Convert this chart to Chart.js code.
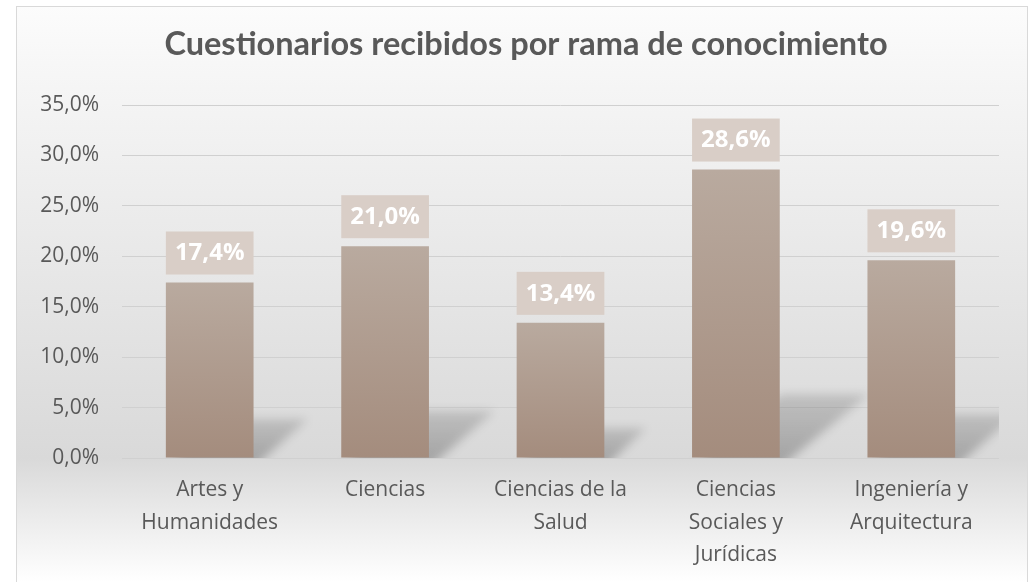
<!DOCTYPE html>
<html>
<head>
<meta charset="utf-8">
<script src="https://cdn.jsdelivr.net/npm/chart.js@4.4.1/dist/chart.umd.min.js"></script>
<style>
  html, body { margin: 0; padding: 0; background: #ffffff; }
  #wrap { width: 1033px; height: 582px; }
</style>
</head>
<body>
<div id="wrap"><canvas id="ramaChart"></canvas></div>
<script>
// datos
var ramas = [
    ['Artes y', 'Humanidades'],
    ['Ciencias'],
    ['Ciencias de la', 'Salud'],
    ['Ciencias', 'Sociales y', 'Jurídicas'],
    ['Ingeniería y', 'Arquitectura']
];
var porcentajes = [17.4, 21.0, 13.4, 28.6, 19.6];
var titulo = 'Cuestionarios recibidos por rama de conocimiento';

function fmtPct(v) {
    return v.toFixed(1).replace('.', ',') + '%';
}

// fondo y marco
var fondoPlugin = {
    id: 'fondo',
    afterLayout: function (chart) {
        // centrar el titulo un poco mas a la derecha, como en el original
        if (chart.titleBlock) chart.titleBlock.left = 53;
    },
    beforeDraw: function (chart) {
        var ctx = chart.ctx;
        ctx.save();
        ctx.fillStyle = '#ffffff';
        ctx.fillRect(0, 0, chart.width, chart.height);
        var g = ctx.createLinearGradient(0, 6, 0, 582);
        g.addColorStop(0, '#fcfcfc');
        g.addColorStop(0.12, '#f6f6f6');
        g.addColorStop(0.785, '#d9d9d9');
        g.addColorStop(1, '#ffffff');
        ctx.fillStyle = g;
        ctx.fillRect(16, 6, 1011, 580);
        ctx.strokeStyle = '#d9d9d9';
        ctx.lineWidth = 1;
        ctx.strokeRect(16.5, 6.5, 1011, 600);
        ctx.restore();
    }
};

// sombras de las barras
var sombraPlugin = {
    id: 'sombra',
    beforeDatasetsDraw: function (chart) {
        var ctx = chart.ctx;
        var area = chart.chartArea;
        var meta = chart.getDatasetMeta(0);
        ctx.save();
        ctx.beginPath();
        ctx.rect(area.left, area.top, area.right - area.left, area.bottom - area.top);
        ctx.clip();
        ctx.filter = 'blur(5px)';
        meta.data.forEach(function (bar) {
            var h = bar.base - bar.y;
            var xl = bar.x - bar.width / 2;
            var xr = bar.x + bar.width / 2;
            var dx = 0.31 * h;
            var dy = 0.22 * h;
            var g = ctx.createLinearGradient(0, bar.base, 0, bar.base - dy);
            g.addColorStop(0, 'rgba(0,0,0,0.24)');
            g.addColorStop(1, 'rgba(0,0,0,0.13)');
            ctx.fillStyle = g;
            ctx.beginPath();
            ctx.moveTo(xl, bar.base + 10);
            ctx.lineTo(xr, bar.base + 10);
            ctx.lineTo(xr + dx, bar.base - dy);
            ctx.lineTo(xl + dx, bar.base - dy);
            ctx.closePath();
            ctx.fill();
        });
        ctx.restore();
    }
};

// etiquetas de datos
var etiquetasPlugin = {
    id: 'etiquetas',
    afterDatasetsDraw: function (chart) {
        var ctx = chart.ctx;
        var meta = chart.getDatasetMeta(0);
        ctx.save();
        ctx.font = 'bold 24px "Open Sans"';
        ctx.textAlign = 'center';
        ctx.textBaseline = 'middle';
        meta.data.forEach(function (bar, i) {
            var w = bar.width;
            var bottom = bar.y - 8;
            ctx.fillStyle = '#d9cec7';
            ctx.fillRect(bar.x - w / 2, bottom - 43, w, 43);
            ctx.fillStyle = '#ffffff';
            ctx.fillText(fmtPct(porcentajes[i]), bar.x, bottom - 21);
        });
        ctx.restore();
    }
};

var ramaChart = new Chart(document.getElementById('ramaChart'), {
    type: 'bar',
    data: {
        labels: ramas,
        datasets: [{
            label: 'Cuestionarios',
            data: porcentajes,
            backgroundColor: function (c) {
                var ys = c.chart.scales.y;
                if (!ys || c.type !== 'data') return '#ad9a8c';
                var top = ys.getPixelForValue(c.raw);
                var base = ys.getPixelForValue(0);
                if (!isFinite(top) || !isFinite(base) || top === base) return '#ad9a8c';
                var g = c.chart.ctx.createLinearGradient(0, top, 0, base);
                g.addColorStop(0, '#b9aa9f');
                g.addColorStop(1, '#a48c7d');
                return g;
            },
            borderWidth: 0,
            barPercentage: 0.5,
            categoryPercentage: 1.0,
        }]
    },
    options: {
        responsive: true,
        maintainAspectRatio: false,
        animation: false,
        layout: {
            padding: { left: 20, right: 34, top: 0, bottom: 0 }
        },
        plugins: {
            legend: { display: false },
            tooltip: { enabled: false },
            title: {
                display: true,
                text: titulo,
                color: '#595959',
                font: { family: 'Lato', size: 32.5, weight: 'bold' },
                padding: { top: 25, bottom: 41 }
            }
        },
        scales: {
            x: {
                grid: { display: false },
                border: { display: false },
                ticks: {
                    color: '#595959',
                    font: { family: 'Open Sans', size: 21, lineHeight: 1.55 },
                    padding: 8,
                    maxRotation: 0,
                    autoSkip: false
                },
                afterFit: function (s) { s.height = 124; }
            },
            y: {
                min: 0,
                max: 35,
                grid: { color: '#d0d0d0', drawTicks: false },
                border: { display: false },
                ticks: {
                    stepSize: 5,
                    color: '#595959',
                    font: { family: 'Open Sans', size: 21 },
                    padding: 23,
                    callback: function (v) { return fmtPct(v); }
                },
                afterFit: function (s) { s.width = 102; }
            }
        }
    },
    plugins: [fondoPlugin, sombraPlugin, etiquetasPlugin]
});
</script>
</body>
</html>
